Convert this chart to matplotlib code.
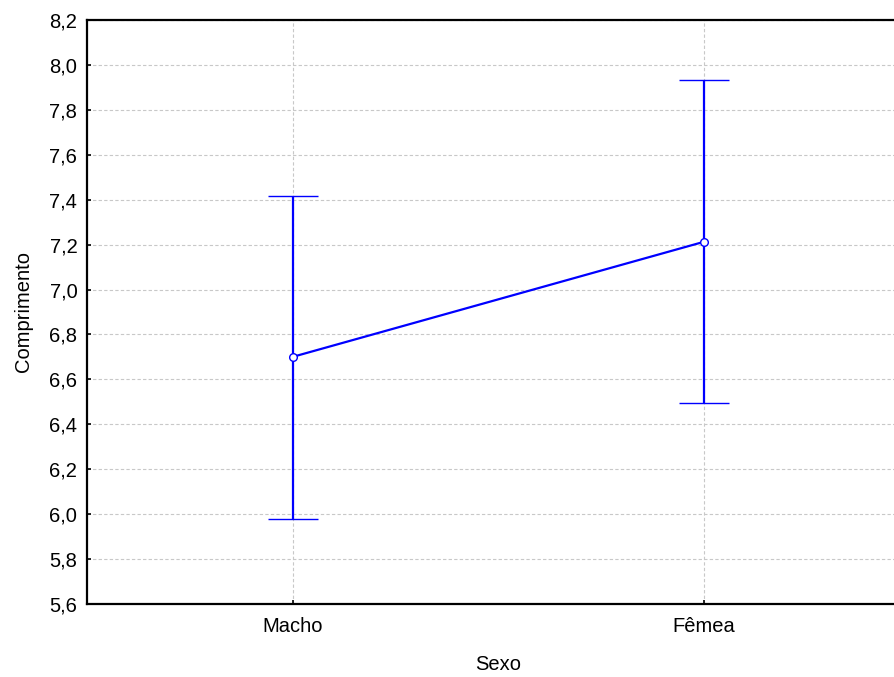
import numpy as np
import matplotlib.pyplot as plt
from matplotlib.ticker import FuncFormatter

plt.rcParams['font.family'] = ['Liberation Sans', 'DejaVu Sans']

# data
sexo = ['Macho', 'Fêmea']
media = [6.70, 7.212]
limite_inf = [5.978, 6.495]
limite_sup = [7.416, 7.933]

W, H = 895, 677
fig = plt.figure(figsize=(W / 100, H / 100), dpi=100)
ax = fig.add_axes([87 / W, 73 / H, 822 / W, 584 / H])

x = np.arange(len(sexo))
m = np.array(media)
err = [m - np.array(limite_inf), np.array(limite_sup) - m]

ax.errorbar(x, m, yerr=err, color='#0000ff', lw=1.6, capsize=18, capthick=2.0,
            marker='o', markersize=5.5, markerfacecolor='white',
            markeredgecolor='#0000ff', markeredgewidth=1.0, zorder=3)

ax.set_xlim(-0.5, 1.5)
ax.set_ylim(5.6, 8.2)
ax.set_yticks(np.arange(5.6, 8.21, 0.2))
ax.yaxis.set_major_formatter(FuncFormatter(lambda v, p: f'{v:.1f}'.replace('.', ',')))
ax.set_xticks(x)
ax.set_xticklabels(sexo)

ax.grid(True, color='#c8c8c8', linestyle=(0, (3, 2)), linewidth=0.8)
ax.set_axisbelow(True)

for s in ax.spines.values():
    s.set_linewidth(1.6)
    s.set_color('black')

ax.tick_params(direction='in', length=3, width=1.2, labelsize=14.5, pad=7)
ax.tick_params(axis='x', pad=9)

ax.set_xlabel('Sexo', fontsize=14.5, labelpad=14)
ax.set_ylabel('Comprimento', fontsize=14.5, labelpad=12)

fig.savefig('out.png', dpi=100)
